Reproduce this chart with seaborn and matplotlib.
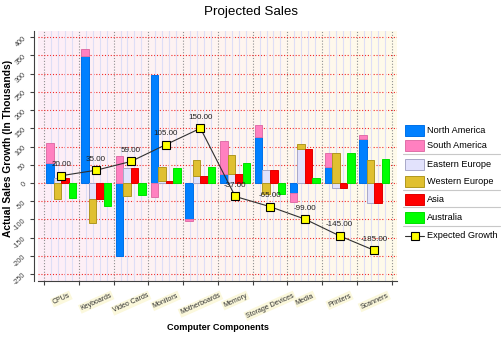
import numpy as np
import matplotlib
matplotlib.use("Agg")
import matplotlib.pyplot as plt
import seaborn as sns
import pandas as pd
from matplotlib.colors import LinearSegmentedColormap
from matplotlib.patches import Rectangle
from matplotlib.lines import Line2D

categories = ["CPUs", "Keyboards", "Video Cards", "Monitors", "Motherboards",
              "Memory", "Storage Devices", "Media", "Printers", "Scanners"]
north_america = [55, 348, -200, 295, -98, 25, 127, -27, 43, 120]
south_america = [55, 20, 74, -39, -6, 90, 33, -26, 39, 12]
eastern_europe = [15, -45, 42, 5, 18, 25, 35, 93, -15, -55]
western_europe = [-45, -64, -35, 40, 46, 52, -30, 14, 82, 64]
asia = [15, -45, 42, 5, 18, 25, 35, 93, -15, -55]
australia = [-40, -62, -32, 40, 45, 55, -29, 15, 82, 65]
expected_growth = [20, 35, 59, 105, 150, -37, -65, -99, -145, -185]
y_ticks = list(range(-250, 401, 50))

sns.set_style("white")
plt.rcParams["font.family"] = ["Liberation Sans", "DejaVu Sans"]

W, H = 502, 337
fig = plt.figure(figsize=(W / 100, H / 100), dpi=100)
fig.patch.set_facecolor("white")
ax = fig.add_axes([38 / W, 1 - 281 / H, (397 - 38) / W, (281 - 31) / H])

# background gradient
grad = np.linspace(0, 1, 256).reshape(1, -1)
cmap = LinearSegmentedColormap.from_list("bg", ["#fdeef8", "#fffbea"])
ax.imshow(grad, extent=[0, 1, 0, 1], transform=ax.transAxes, aspect="auto",
          cmap=cmap, zorder=0)

n = len(categories)
pos = np.arange(n)
w = 0.216

colors = {
    "North America": ("#0080ff", "#0070e8"),
    "South America": ("#ff80c0", "#e070a8"),
    "Eastern Europe": ("#e2e2fc", "#a8a8c8"),
    "Western Europe": ("#e0c030", "#b09820"),
    "Asia": ("#ff0000", "#e00000"),
    "Australia": ("#00ff00", "#00e000"),
}


def stacked_pair(offset, first, second, n1, n2):
    f = np.array(first, dtype=float)
    s = np.array(second, dtype=float)
    bottom2 = np.where(np.sign(s) == np.sign(f), f, 0.0)
    ax.bar(pos + offset, f, width=w, color=colors[n1][0], edgecolor=colors[n1][1],
           linewidth=0.7, zorder=3)
    ax.bar(pos + offset, s, bottom=bottom2, width=w, color=colors[n2][0],
           edgecolor=colors[n2][1], linewidth=0.7, zorder=3)


stacked_pair(-1.5 * w, north_america, south_america, "North America", "South America")
stacked_pair(-0.5 * w, eastern_europe, western_europe, "Eastern Europe", "Western Europe")
ax.bar(pos + 0.5 * w, asia, width=w, color=colors["Asia"][0],
       edgecolor=colors["Asia"][1], linewidth=0.7, zorder=3)
ax.bar(pos + 1.5 * w, australia, width=w, color=colors["Australia"][0],
       edgecolor=colors["Australia"][1], linewidth=0.7, zorder=3)

# expected growth line
df = pd.DataFrame({"x": pos, "y": expected_growth})
sns.lineplot(data=df, x="x", y="y", ax=ax, color="#303030", linewidth=0.8,
             marker="s", markersize=5.5, markerfacecolor="#ffff00",
             markeredgecolor="#000000", markeredgewidth=0.8, zorder=5)
for xi, v in zip(pos, expected_growth):
    ax.annotate(f"{v:.2f}", (xi, v), xytext=(0, 7.8), textcoords="offset points",
                ha="center", va="center", fontsize=5.8, color="#202020", zorder=6)

# minor lavender vertical lines
sub = [b + k * 0.2 for b in np.arange(-0.5, n - 0.5, 1.0) for k in range(1, 5)]
ax.vlines(sub, -300, 450, colors="#dedef6", linewidth=0.8, zorder=0.6)

ax.set_xlim(-0.5 - 6 / 34.7, n - 0.5 + 5.3 / 34.7)
ax.set_ylim(-269, 417)

ax.set_yticks(y_ticks)
ax.set_yticklabels([str(t) for t in y_ticks])
ax.set_xticks(pos)
ax.set_xticklabels(categories)
ax.set_xticks(np.arange(-0.5, n, 1.0), minor=True)

ax.set_axisbelow(True)
ax.yaxis.grid(True, which="major", color="#f02828", linestyle=(0, (1, 1.6)), linewidth=0.8)
ax.xaxis.grid(True, which="minor", color="#909090", linestyle=(0, (1, 1.6)), linewidth=0.8)
ax.xaxis.grid(False, which="major")

ax.tick_params(axis="y", which="major", left=True, length=3, width=0.8, color="#404040",
               pad=1.5, labelsize=5.2, labelcolor="#404040", labelrotation=45)
ax.tick_params(axis="x", which="major", bottom=True, length=0, pad=8,
               labelsize=5.0, labelcolor="#303030")
ax.tick_params(axis="x", which="minor", bottom=True, length=3, width=0.8, color="#404040")
for lbl in ax.get_xticklabels():
    lbl.set_rotation(24)
    lbl.set_ha("center")
    lbl.set_va("top")
    lbl.set_bbox(dict(facecolor="#fbf8dc", edgecolor="none", pad=0.8))

for s in ["top", "right"]:
    ax.spines[s].set_visible(False)
ax.spines["left"].set_position(("outward", 2.9))
for s in ["left", "bottom"]:
    ax.spines[s].set_color("#404040")
    ax.spines[s].set_linewidth(0.8)
ax.set_xlabel("")
ax.set_ylabel("")

# titles
fig.text(0.5, 1 - 11.5 / H, "Projected Sales", ha="center", va="center",
         fontsize=9.6, color="#000000")
fig.text(218.3 / W, 1 - 327 / H, "Computer Components", ha="center", va="center",
         fontsize=6.6, fontweight="bold", color="#000000")
fig.text(8 / W, 1 - 148 / H, "Actual Sales Growth (In Thousands)", ha="center",
         va="center", rotation=90, fontsize=7.4, fontweight="bold", color="#000000")

# legend (figure pixel coordinates)
def fx(x):
    return x / W


def fy(y):
    return 1 - y / H


legend_items = [
    ("North America", 130.5), ("South America", 145.7),
    ("Eastern Europe", 164.7), ("Western Europe", 181.3),
    ("Asia", 199.0), ("Australia", 217.3),
]
for name, yc in legend_items:
    fig.patches.append(Rectangle((fx(405), fy(yc + 5.5)), 19 / W, 11 / H,
                                 transform=fig.transFigure, facecolor=colors[name][0],
                                 edgecolor=colors[name][1], linewidth=0.7))
    fig.text(fx(427), fy(yc), name, ha="left", va="center", fontsize=6.6, color="#000000")
for ys in [154, 190, 207.3, 225.7]:
    fig.lines.append(Line2D([fx(403), fx(500)], [fy(ys), fy(ys)], transform=fig.transFigure,
                            color="#c8c8c8", linewidth=0.8))
fig.lines.append(Line2D([fx(405), fx(424)], [fy(236), fy(236)], transform=fig.transFigure,
                        color="#303030", linewidth=0.8))
fig.lines.append(Line2D([fx(414.5)], [fy(236)], transform=fig.transFigure, marker="s",
                        markersize=5.5, markerfacecolor="#ffff00", markeredgecolor="#000000",
                        markeredgewidth=0.8, linestyle="none"))
fig.text(fx(427), fy(236), "Expected Growth", ha="left", va="center", fontsize=6.6,
         color="#000000")

fig.savefig("out.png", dpi=100)
